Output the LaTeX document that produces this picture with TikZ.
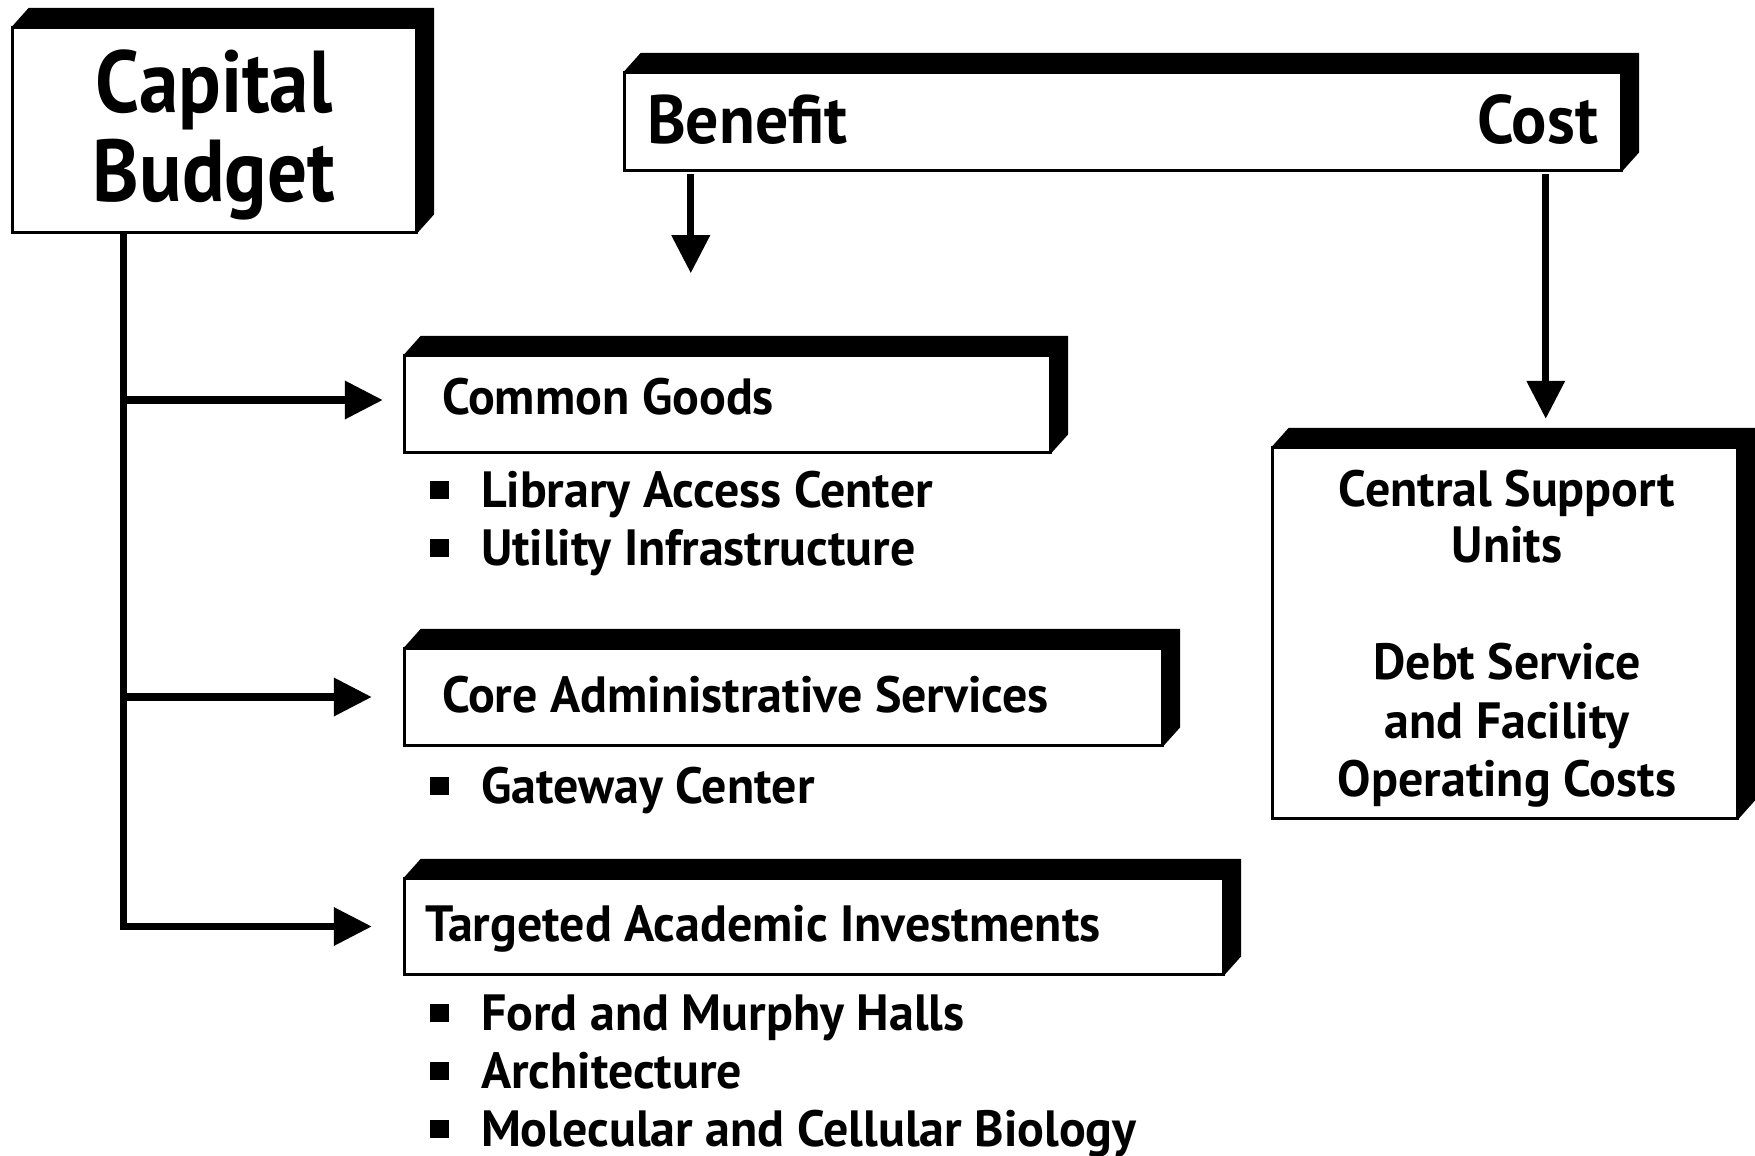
\documentclass[tikz,border=0pt]{standalone}
\usepackage{fontspec}
\setmainfont{PT Sans}[FakeStretch=0.98]
\newfontfamily\headfamily{PT Sans}[FakeStretch=0.96]
\newfontfamily\titlefamily{PT Sans}[FakeStretch=0.9]
\usetikzlibrary{arrows.meta,calc}

\newcommand{\sizeItem}{\fontsize{14.5}{17}\bfseries\selectfont}
\newcommand{\sizeHead}{\headfamily\fontsize{19.5}{22}\bfseries\selectfont}
\newcommand{\sizeTitle}{\titlefamily\fontsize{25}{28}\bfseries\selectfont}

\tikzset{
  slab/.style={draw, line width=0.7pt, fill=white, rectangle, inner sep=0pt, minimum width=#1},
  slabh/.style={minimum height=#1},
  txt/.style={inner sep=0pt, outer sep=0pt, font=\sizeItem},
  conn/.style={line width=2pt, -{Triangle[length=3.8mm,width=3.7mm]}},
  trunkline/.style={line width=2pt},
  bulletsq/.style={fill=black, inner sep=0pt, minimum width=1.9mm, minimum height=1.8mm},
}

% black extrusion to the upper right of a box
\newcommand{\extrude}[1]{%
  \fill (#1.north west) -- ++(17,-19) -- ($(#1.north east)+(17,-19)$)
        -- ($(#1.south east)+(17,-19)$) -- (#1.south east) -- (#1.north east) -- cycle;
  \draw[line width=0.7pt] (#1.north west) rectangle (#1.south east);}

\begin{document}
\begin{tikzpicture}[x=0.1mm,y=-0.1mm]
\useasboundingbox (0,0) rectangle (1755,1156);
\fill[white] (0,0) rectangle (1755,1156);

% boxes
\node[slab=403*0.1mm, slabh=204*0.1mm] (cb) at (214.5,130) {};
\node[slab=996*0.1mm, slabh=97*0.1mm]  (bc) at (1123,121.5) {};
\node[slab=645*0.1mm, slabh=96*0.1mm]  (cg) at (727.5,404) {};
\node[slab=757*0.1mm, slabh=96*0.1mm]  (ca) at (783.5,697) {};
\node[slab=818*0.1mm, slabh=95*0.1mm]  (ta) at (814,926.5) {};
\node[slab=464*0.1mm, slabh=370*0.1mm] (cs) at (1505,633) {};
\foreach \b in {cb,bc,cg,ca,ta,cs} {\extrude{\b}}

% box texts
\node[txt, font=\sizeTitle, anchor=base] (t1) at (214,112) {Capital};
\node[txt, font=\sizeTitle, anchor=base] (t2) at (214,201) {Budget};
\node[txt, font=\sizeHead, anchor=base west] (ben) at (647,143) {Benefit};
\node[txt, font=\sizeHead, anchor=base east] (cost) at (1598,143) {Cost};
\node[txt, anchor=base west] (cgt) at (442,414) {Common Goods};
\node[txt, anchor=base west] (cat) at (442,712) {Core Administrative Services};
\node[txt, anchor=base west] (tat) at (425,941) {Targeted Academic Investments};

\node[txt, anchor=base] (cs1) at (1507,506) {Central Support};
\node[txt, anchor=base] (cs2) at (1507,562) {Units};
\node[txt, anchor=base] (cs3) at (1507,679) {Debt Service};
\node[txt, anchor=base] (cs4) at (1507,738) {and Facility};
\node[txt, anchor=base] (cs5) at (1507,796) {Operating Costs};

% bulleted lists
\foreach \y/\name/\t in {507/i1/Library Access Center, 565/i2/Utility Infrastructure,
  803/i3/Gateway Center, 1030/i4/Ford and Murphy Halls, 1088/i5/Architecture,
  1146/i6/Molecular and Cellular Biology} {
  \node[txt, anchor=base west] (\name) at (481,\y) {\t};
  \node[bulletsq] (b\name) at (439,\y-17) {};
}

% connectors
\coordinate (trunk) at ($(cb.south west)+(112,0)$);
\draw[trunkline] (trunk) -- (trunk |- ta.west);
\draw[conn] ($(trunk |- cg.west)+(0,-4)$) -- ($(cg.west)+(-21,-4)$);
\draw[conn] (trunk |- ca.west) -- ($(ca.west)+(-32,0)$);
\draw[conn] ([xshift=-1pt]trunk |- ta.west) -- ($(ta.west)+(-32,0)$);

\coordinate (bentop) at ($(bc.south west)+(67,3)$);
\coordinate (bentip) at ($(bc.south west)+(67,102)$);
\draw[conn] (bentop) -- (bentip);

\coordinate (costtop) at ($(bc.south west)+(922,3)$);
\draw[conn, shorten >=2.8mm] (costtop) -- (costtop |- cs.north);
\end{tikzpicture}
\end{document}
